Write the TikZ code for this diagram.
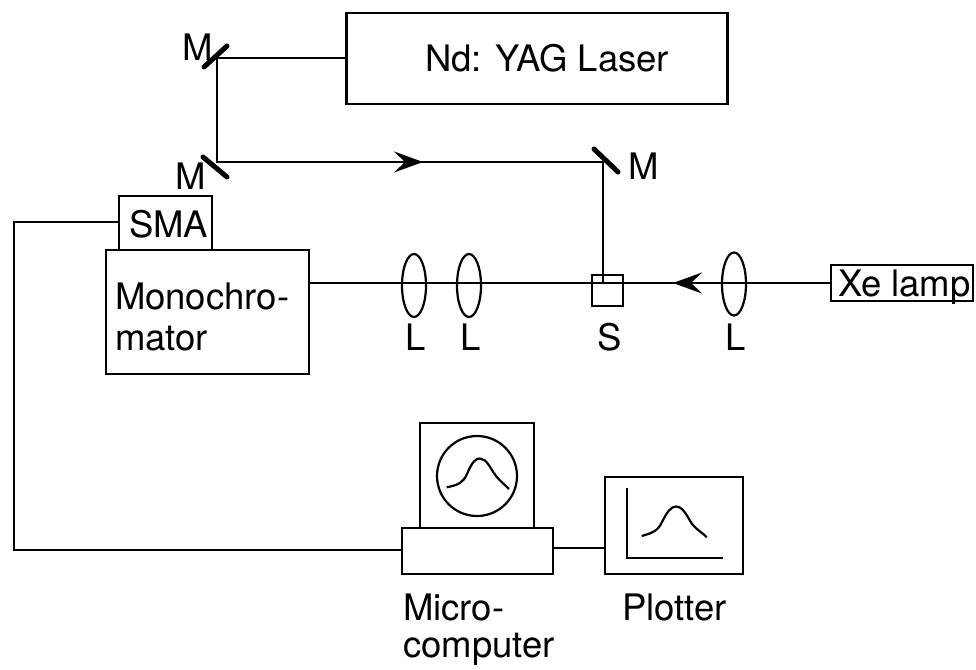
\documentclass[tikz,border=0pt]{standalone}
\usepackage{fontspec}
\setmainfont{TeX Gyre Heros}
\usetikzlibrary{arrows.meta,shapes.geometric}
\tikzset{
  box/.style={draw,line width=2.2pt,inner sep=0pt,outer sep=0pt},
  lens/.style={draw,ellipse,line width=2.2pt,inner sep=0pt,outer sep=0pt,minimum width=24pt,minimum height=63pt},
  beam/.style={line width=2.2pt},
  wire/.style={line width=2pt},
  mirror/.style={line width=5pt,line cap=round},
  trace/.style={line width=2.2pt},
  lbl/.style={anchor=base west,inner sep=0pt,outer sep=0pt,font=\fontsize{36.5pt}{36.5pt}\selectfont},
  lblc/.style={anchor=base,inner sep=0pt,outer sep=0pt,font=\fontsize{36.5pt}{36.5pt}\selectfont},
  barb/.tip={Stealth[length=29pt,width=21pt,inset=11pt]}
}
\begin{document}
\begin{tikzpicture}[x=1pt,y=-1pt]
\useasboundingbox (0,0) rectangle (976,669);
% boxes
\node[box,minimum width=381pt,minimum height=91pt] (laser) at (537,58.5) {};
\node[box,minimum width=203pt,minimum height=124pt] (mono) at (207.5,312) {};
\node[box,minimum width=93pt,minimum height=54pt] (sma) at (165.5,223) {};
\node[box,minimum width=31pt,minimum height=31pt] (sample) at (607.5,290.5) {};
\node[box,minimum width=142pt,minimum height=36pt] (lamp) at (902,283) {};
\node[box,minimum width=114pt,minimum height=105pt] (monitor) at (477,475.5) {};
\node[box,minimum width=151pt,minimum height=46pt] (computer) at (477.5,551) {};
\node[box,minimum width=138pt,minimum height=97pt] (plotter) at (674,525.5) {};
\node[draw,circle,line width=2.2pt,minimum size=80pt,inner sep=0pt,outer sep=0pt] (screen) at (477,476) {};
% lenses
\node[lens] (l1) at (414,285.5) {};
\node[lens] (l2) at (469,285.5) {};
\node[lens] (l3) at (734,284) {};
% beam corners and mirrors
\coordinate (m1) at (217,58);
\coordinate (m2) at (217,162);
\coordinate (m3) at (603,162);
\coordinate (arrA) at (423,162);
\coordinate (arrB) at (673,283);
\draw[beam] (laser.west |- m1) -- (m1) -- (m2) -- (m3) -- (m3 |- arrB);
\draw[beam,-{barb}] (m2) -- (arrA);
\draw[beam] (lamp.west) -- (mono.east |- lamp.west);
\draw[beam,-{barb}] (l3.center |- arrB) -- (arrB);
\draw[mirror] (204,67) -- (227,46);
\draw[mirror] (203,157) -- (227,177);
\draw[mirror] (594,149) -- (618,172);
% wires
\coordinate (c1) at (14,222);
\coordinate (c2) at (14,550);
\draw[wire] (sma.west |- c1) -- (c1) -- (c2) -- (computer.west |- c2);
\draw[wire] (computer.east |- 0,548) -- (plotter.west |- 0,548);
% plotter axes and traces
\coordinate (axt) at (627,488);
\coordinate (axo) at (627,558);
\coordinate (axr) at (723,558);
\draw[line width=2.2pt] (axt) -- (axo) -- (axr);
\draw[trace] (446.7,487.3) .. controls (458,485) and (463,483) .. (467,474) .. controls (472,462) and (476,458) .. (480,458.5) .. controls (487,459) and (490,468) .. (496,476) .. controls (500,481) and (504,484) .. (509,489);
\draw[trace] (641.7,536) .. controls (652,533) and (658,531) .. (662,522) .. controls (667,512) and (671,506.5) .. (676,506.5) .. controls (683,506.5) and (687,516) .. (692,524) .. controls (698,531) and (703,533) .. (706.7,537.3);
% labels
\node[lbl] (tlaser) at (425,71) {Nd: YAG Laser};
\node[lbl] (tm1) at (182,60) {M};
\node[lbl] (tm2) at (175,189) {M};
\node[lbl] (tm3) at (628,179) {M};
\node[lbl] (tsma) at (129,237) {SMA};
\node[lbl] (tmono1) at (115,309) {Monochro-};
\node[lbl] (tmono2) at (115,350) {mator};
\node[lblc] (tl1) at (416,350) {L};
\node[lblc] (tl2) at (471,350) {L};
\node[lblc] (ts) at (610,350) {S};
\node[lblc] (tl3) at (736,350) {L};
\node[lbl] (txe) at (838,296) {Xe lamp};
\node[lbl] (tmic1) at (403,620) {Micro-};
\node[lbl] (tmic2) at (403,657) {computer};
\node[lbl] (tplot) at (622,620) {Plotter};
\end{tikzpicture}
\end{document}
